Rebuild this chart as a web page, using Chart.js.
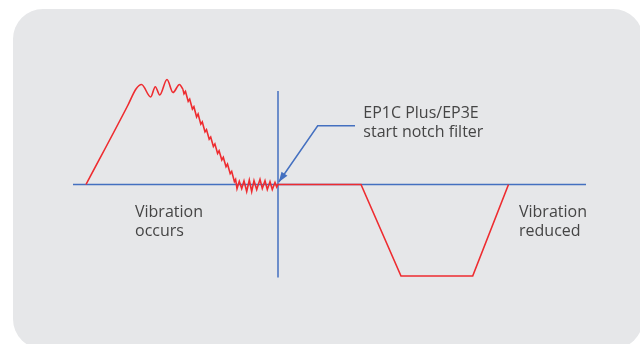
<!DOCTYPE html>
<html>
<head>
<meta charset="utf-8">
<script src="https://cdn.jsdelivr.net/npm/chart.js@4.4.1/dist/chart.umd.min.js"></script>
<style>
  html, body { margin: 0; padding: 0; background: #fff; }
  #wrap { position: relative; width: 640px; height: 344px; overflow: hidden; }
  #panel {
    position: absolute; left: 13px; top: 9px; width: 630px; height: 340px;
    background: #e6e7e9; border-radius: 30px;
  }
  #chart { position: absolute; left: 0; top: 0; }
</style>
</head>
<body>
<div id="wrap">
  <div id="panel"></div>
  <canvas id="chart" width="640" height="344"></canvas>
</div>
<script>
  // ---- data (arbitrary time / amplitude units, origin = notch filter start) ----

  // smooth rise and low frequency wobble
  const waveX = [-19.2, -15.0, -14.2, -13.65, -12.73, -12.27, -11.83, -11.1, -10.5, -9.85, -9.5];
  const waveY = [0, 7.95, 9.55, 10.0, 8.75, 9.78, 8.95, 10.5, 9.2, 10.0, 9.5];

  // jagged decay, ripple round zero, then the reduced response
  const signalX = [-9.5, -9.40, -9.25, -8.98, -8.83, -8.56, -8.41, -8.14, -7.99, -7.72, -7.57,
    -7.30, -7.15, -6.88, -6.73, -6.46, -6.31, -6.04, -5.89, -5.62, -5.47,
    -5.20, -5.05, -4.78, -4.63, -4.36, -4.24,
    -4.10, -3.87, -3.63, -3.40, -3.13, -2.87, -2.63, -2.40, -2.13, -1.80, -1.57, -1.30,
    -1.07, -0.80, -0.57, -0.30, -0.13, 0,
    8.3, 12.3, 19.47, 23.05];
  const signalY = [9.5, 9.07, 9.30, 8.31, 8.54, 7.55, 7.78, 6.75, 7.05, 6.03, 6.25,
    5.26, 5.49, 4.53, 4.74, 3.81, 4.06, 3.11, 3.37, 2.45, 2.71,
    1.78, 2.04, 1.08, 1.31, 0.28, 0.50,
    -0.42, 0.32, -0.40, 0.36, -0.70, 0.45, -0.70, 0.38, -0.50, 0.52, -0.40, 0.38,
    -0.50, 0.28, -0.50, 0.20, -0.25, 0,
    0, -9.15, -9.15, 0];

  // axes
  const timeAxisX = [-20.5, 30.8];
  const timeAxisY = [0, 0];
  const ampAxisX = [0, 0];
  const ampAxisY = [9.35, -9.3];

  // callout leader
  const leaderX = [7.7, 3.97, 0.08];
  const leaderY = [5.88, 5.88, 0.25];

  const calloutText = ['EP1C Plus/EP3E', 'start notch filter'];
  const beforeText = ['Vibration', 'occurs'];
  const afterText = ['Vibration', 'reduced'];

  // ---- helpers ----

  let toPoints = (xs, ys) => xs.map((x, i) => ({ x, y: ys[i] }));

  const RED = '#ee2c30';
  const BLUE = '#4470c0';

  let lineSet = (xs, ys, color, width, extra) => Object.assign({
    data: toPoints(xs, ys),
    showLine: true,
    borderColor: color,
    borderWidth: width,
    pointRadius: 0,
    fill: false
  }, extra || {});

  // ---- plugin: arrow head + text ----

  let notes = {
    id: 'notes',
    afterDatasetsDraw(chart) {
      let ctx = chart.ctx;
      let sx = chart.scales.x, sy = chart.scales.y;

      // arrow head at end of leader line
      let pts = chart.getDatasetMeta(4).data;
      let tip = pts[pts.length - 1], from = pts[pts.length - 2];
      let ang = Math.atan2(tip.y - from.y, tip.x - from.x);
      let len = 10, half = 3.6;
      ctx.save();
      ctx.fillStyle = BLUE;
      ctx.beginPath();
      ctx.moveTo(tip.x, tip.y);
      ctx.lineTo(tip.x - len * Math.cos(ang) + half * Math.sin(ang), tip.y - len * Math.sin(ang) - half * Math.cos(ang));
      ctx.lineTo(tip.x - len * Math.cos(ang) - half * Math.sin(ang), tip.y - len * Math.sin(ang) + half * Math.cos(ang));
      ctx.closePath();
      ctx.fill();

      // labels
      ctx.fillStyle = '#454545';
      ctx.font = '16px "Open Sans", sans-serif';
      ctx.textBaseline = 'alphabetic';
      ctx.textAlign = 'left';
      let block = (lines, x, y) => {
        lines.forEach((t, i) => ctx.fillText(t, sx.getPixelForValue(x), sy.getPixelForValue(y) + i * 19.6));
      };
      block(calloutText, 8.53, 6.68);
      block(beforeText, -14.3, -3.2);
      block(afterText, 24.1, -3.2);
      ctx.restore();
    }
  };

  new Chart(document.getElementById('chart'), {
    type: 'scatter',
    data: {
      datasets: [
        lineSet(signalX, signalY, RED, 1.6),
        lineSet(waveX, waveY, RED, 1.6, { cubicInterpolationMode: 'monotone' }),
        lineSet(timeAxisX, timeAxisY, BLUE, 1.7),
        lineSet(ampAxisX, ampAxisY, BLUE, 1.5),
        lineSet(leaderX, leaderY, BLUE, 1.5)
      ]
    },
    options: {
      responsive: false,
      animation: false,
      devicePixelRatio: 1,
      layout: { padding: 0 },
      plugins: { legend: { display: false }, tooltip: { enabled: false } },
      scales: {
        x: { type: 'linear', min: -27.8, max: 36.2, display: false },
        y: { type: 'linear', min: -15.95, max: 18.45, display: false }
      }
    },
    plugins: [notes]
  });
</script>
</body>
</html>
